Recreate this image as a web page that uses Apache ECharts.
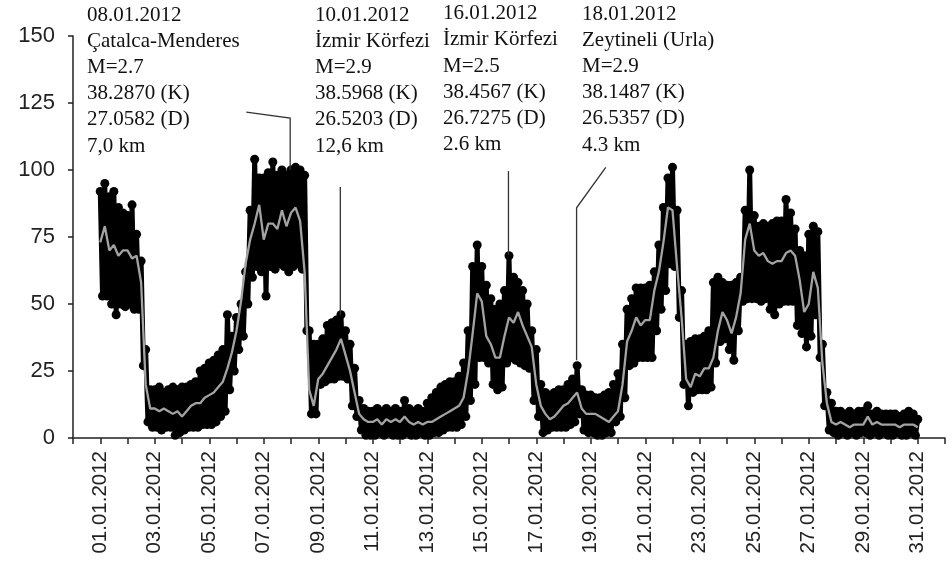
<!DOCTYPE html>
<html><head><meta charset="utf-8">
<script src="https://cdn.jsdelivr.net/npm/echarts@6.0.0/dist/echarts.min.js"></script>
<style>html,body{margin:0;padding:0;background:#fff}#c{width:952px;height:565px}</style>
</head><body><div id="c"></div>
<script>
const dateLabels = ['01.01.2012','03.01.2012','05.01.2012','07.01.2012','09.01.2012','11.01.2012','13.01.2012','15.01.2012','17.01.2012','19.01.2012','21.01.2012','23.01.2012','25.01.2012','27.01.2012','29.01.2012','31.01.2012'];
const firstDay = 1;
const stepsPerDay = 6;
// upper edge of the black dot cloud, every 4 h from 01.01 00:00
const upperEnv = [
 92,95,90,92,86,84, 83,87,76,66,33,18, 18,19,17,18,19,18, 19,19,20,21,25,26,
 28,29,31,33,46,38, 45,50,62,85,104,97, 97,99,103,98,100,98, 100,101,100,98,40,35,
 35,37,42,43,44,46, 40,35,26,14,11,10, 10,11,10,11,10,11, 10,14,11,10,11,10,
 13,15,17,19,20,21, 21,23,28,40,64,72, 64,57,52,48,50,55, 68,60,58,55,50,40,
 33,20,17,16,17,18, 18,20,22,27,18,16, 16,15,15,16,17,20, 24,35,48,52,56,56,
 56,57,62,72,86,97, 101,85,55,35,36,37, 37,38,40,58,60,58, 57,57,58,60,85,100,
 83,79,80,79,80,81, 81,89,84,78,70,68, 76,79,77,35,17,13, 10,10,9,10,9,10,
 10,12,9,10,9,9, 9,9,8,9,10,9, 7
];
// lower edge of the black dot cloud, 2 h later than each upper point
const lowerEnv = [
 53,53,50,46,50,49, 50,48,48,27,6,4, 4,3,4,4,1,2, 3,4,4,4,5,5,
 5,6,8,10,18,25, 33,38,50,60,64,62, 53,64,63,65,64,62, 64,65,63,40,9,9,
 20,21,22,22,23,23, 22,12,8,3,1,1, 1,2,1,2,1,1, 1,2,1,1,2,1,
 1,2,2,3,4,4, 4,5,8,14,20,30, 30,28,20,18,19,28, 30,29,28,27,26,14,
 8,2,3,4,4,4, 4,5,6,9,3,2, 2,1,1,2,2,6, 8,15,27,28,30,30,
 30,30,40,48,55,65, 64,45,20,12,17,18, 18,18,19,28,36,37, 33,29,40,51,52,52,
 52,51,52,48,46,50, 51,51,51,42,39,34, 38,46,30,12,3,2, 1,2,1,2,1,2,
 2,1,2,1,2,1, 1,2,1,1,2,1
];
// grey smoothed line, every 4 h
const grayMean = [
 73,79,70,72,68,70, 70,67,68,58,20,11, 11,10,11,10,9,10, 8,10,12,13,13,15,
 16,17,19,21,26,32, 40,51,65,74,80,87, 74,80,80,78,85,79, 84,86,81,62,18,12,
 22,24,27,30,33,37, 31,25,17,9,7,6, 6,7,5,7,6,7, 6,8,6,5,6,5,
 6,6,7,8,9,10, 11,12,15,25,39,54, 51,38,35,30,30,38, 45,43,47,42,38,34,
 20,12,9,7,8,10, 12,13,15,17,11,9, 9,9,8,7,6,8, 10,20,36,40,45,42,
 44,44,55,62,73,86, 85,64,45,22,19,24, 23,26,26,30,40,47, 44,39,45,54,74,80,
 70,68,69,66,65,66, 66,69,70,68,59,47, 50,62,56,28,13,6, 5,6,5,4,5,5,
 5,8,5,6,5,5, 5,5,4,5,5,5, 4
];
const noteTexts = [
 ['08.01.2012','Çatalca-Menderes','M=2.7','38.2870 (K)','27.0582 (D)','7,0 km'],
 ['10.01.2012','İzmir Körfezi','M=2.9','38.5968 (K)','26.5203 (D)','12,6 km'],
 ['16.01.2012','İzmir Körfezi','M=2.5','38.4567 (K)','26.7275 (D)','2.6 km'],
 ['18.01.2012','Zeytineli (Urla)','M=2.9','38.1487 (K)','26.5357 (D)','4.3 km']
];
// leader lines in data coordinates [day, value]
const leaderLines = [
 [[6.36,121.6],[7.97,119.4],[7.97,100]],
 [[9.81,93.7],[9.81,46]],
 [[15.98,99.6],[15.98,68.3]],
 [[19.55,101],[18.48,85.9],[18.48,29]]
];
const notePos = [[87,2],[315,2],[443,0.5],[582,1]];

const blackPts = [];
upperEnv.forEach((u, i) => {
  const t = firstDay + i / stepsPerDay;
  blackPts.push([t, u]);
  if (i < lowerEnv.length) blackPts.push([t + 0.5 / stepsPerDay, lowerEnv[i]]);
});
const grayPts = grayMean.map((g, i) => [firstDay + i / stepsPerDay, g]);

const chart = echarts.init(document.getElementById('c'), null, {renderer: 'canvas'});
const option = {
  animation: false,
  backgroundColor: '#fff',
  grid: {left: 73, right: 7, top: 36, bottom: 127, containLabel: false, outerBoundsMode: 'none'},
  xAxis: {
    type: 'value', min: 0, max: 32, interval: 1,
    axisLine: {show: true, onZero: false, lineStyle: {color: '#222', width: 1.5}},
    axisTick: {show: true, inside: false, length: 6, lineStyle: {color: '#222', width: 1.5}},
    splitLine: {show: false},
    axisLabel: {
      rotate: 90, margin: 13, fontSize: 20.5, color: '#222', fontFamily: 'Liberation Sans, Arial',
      formatter: v => (v % 2 === 1 && v <= 31) ? dateLabels[(v - 1) / 2] : ''
    }
  },
  yAxis: {
    type: 'value', min: 0, max: 150, interval: 25,
    axisLine: {show: true, lineStyle: {color: '#222', width: 1.5}},
    axisTick: {show: true, inside: false, length: 5, lineStyle: {color: '#222', width: 1.5}},
    splitLine: {show: false},
    axisLabel: {margin: 18, fontSize: 22, color: '#222', fontFamily: 'Liberation Sans, Arial'}
  },
  series: [
    {
      type: 'line', data: blackPts, showAllSymbol: true, symbol: 'circle', symbolSize: 9,
      itemStyle: {color: '#000'}, lineStyle: {color: '#000', width: 5, join: 'round', cap: 'round'}, z: 2, silent: true
    },
    {
      type: 'line', data: grayPts, showSymbol: false, symbol: 'none',
      lineStyle: {color: '#a3a3a3', width: 2.3}, z: 3, silent: true
    }
  ]
};
chart.setOption(option);

const graphics = [];
noteTexts.forEach((lines, i) => {
  graphics.push({
    type: 'text', left: notePos[i][0], top: notePos[i][1], z: 10,
    style: {text: lines.join('\n'), font: '21px "Liberation Serif", "Times New Roman", serif', fill: '#111', lineHeight: 26.2}
  });
});
leaderLines.forEach(pts => {
  const px = pts.map(p => chart.convertToPixel({gridIndex: 0}, p));
  graphics.push({type: 'polyline', z: 9, shape: {points: px}, style: {stroke: '#333', lineWidth: 1.3, fill: null}});
});
chart.setOption({graphic: graphics});
</script></body></html>
